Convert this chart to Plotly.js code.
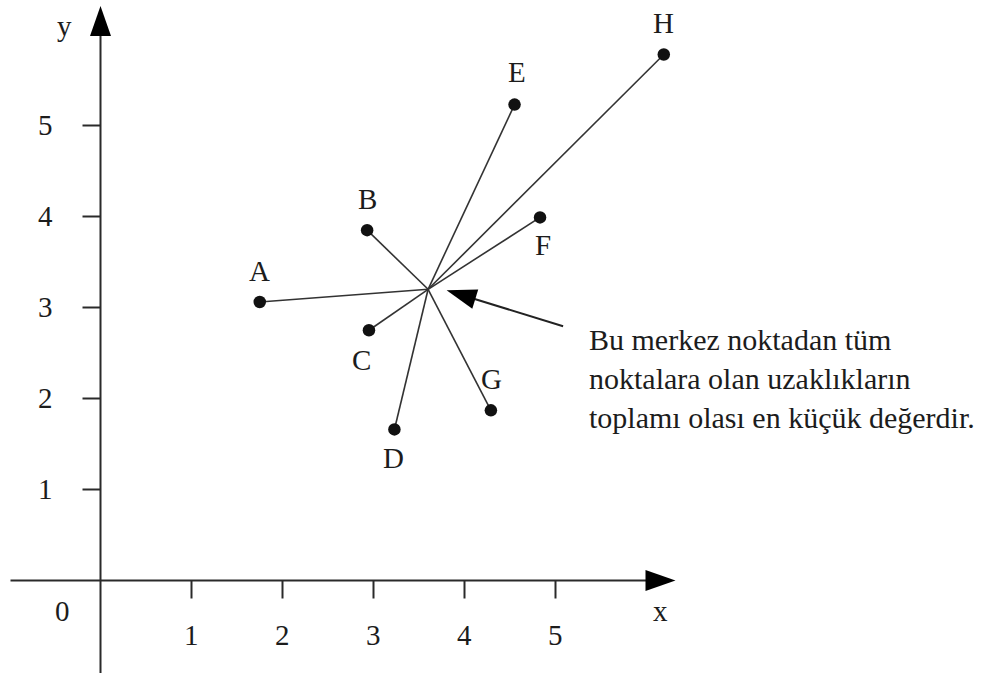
<!DOCTYPE html>
<html>
<head>
<meta charset="utf-8">
<script src="https://cdn.plot.ly/plotly-3.0.1.min.js"></script>
<style>
  html, body { margin: 0; padding: 0; background: #ffffff; }
  #chart { width: 1003px; height: 673px; }
</style>
</head>
<body>
<div id="chart"></div>
<script>
// Points whose summed distance to the centre is minimal
const pointNames = ['A', 'B', 'C', 'D', 'E', 'F', 'G', 'H'];
const pointX = [1.75, 2.93, 2.95, 3.23, 4.55, 4.83, 4.29, 6.19];
const pointY = [3.06, 3.85, 2.75, 1.66, 5.23, 3.99, 1.87, 5.78];

// The median centre
const centerX = 3.60;
const centerY = 3.20;

// Axis ticks
const xTicks = [1, 2, 3, 4, 5];
const yTicks = [1, 2, 3, 4, 5];
const xTickLabels = ['1', '2', '3', '4', '5'];
const yTickLabels = ['1', '2', '3', '4', '5'];

const note = 'Bu merkez noktadan tüm<br>noktalara olan uzaklıkların<br>toplamı olası en küçük değerdir.';

// Pixel offsets of the letter beside each point
const labelDx = [0, 0, -7, -1, 2, 3, 1, 0];
const labelDy = [31, 31, -30, -29, 33, -28, 31, 32];

// Page geometry: origin at (100.5, 580.5) px, 91 px per unit on both axes
const W = 1003, H = 673, PX = 91, OX = 100.5, OY = 580.5;
const xRange = [-OX / PX, (W - OX) / PX];
const yRange = [-(H - OY) / PX, OY / PX];
const px = v => v / PX;

const ink = '#1c1c1c';
const serif = 'Liberation Serif, Times New Roman, serif';
const font = { family: serif, size: 29, color: ink };
const noteFont = { family: serif, size: 30, color: ink };

// Spokes from the centre to every point
const spokeX = [], spokeY = [];
pointX.forEach((x, i) => {
  spokeX.push(centerX, x, null);
  spokeY.push(centerY, pointY[i], null);
});

const traces = [
  {
    x: spokeX, y: spokeY, mode: 'lines', type: 'scatter',
    line: { color: '#333333', width: 1.6 }, hoverinfo: 'skip'
  },
  {
    x: pointX, y: pointY, text: pointNames, mode: 'markers', type: 'scatter',
    marker: { color: '#111111', size: 12.5, line: { width: 0 } }, hoverinfo: 'text'
  }
];

// Filled triangle helper: tip, direction (unit), length, half width
function triangle(tx, ty, ux, uy, len, half) {
  const bx = tx - ux * len, by = ty - uy * len;
  const nx = -uy, ny = ux;
  return `M${tx},${ty} L${bx + nx * half},${by + ny * half} L${bx - nx * half},${by - ny * half} Z`;
}

const shapes = [];
const axisLine = { color: '#2a2a2a', width: 2 };

// x axis with arrow
const axisTip = px(575);
const axisStart = px(-90);
shapes.push({ type: 'line', xref: 'x', yref: 'y', x0: axisStart, y0: 0, x1: axisTip - px(20), y1: 0, line: axisLine });
shapes.push({ type: 'path', xref: 'x', yref: 'y', path: triangle(axisTip, 0, 1, 0, px(30), px(10.5)), fillcolor: '#000', line: { width: 0 } });
// y axis with arrow
shapes.push({ type: 'line', xref: 'x', yref: 'y', x0: 0, y0: yRange[0], x1: 0, y1: px(574.5) - px(20), line: axisLine });
shapes.push({ type: 'path', xref: 'x', yref: 'y', path: triangle(0, px(574.5), 0, 1, px(30), px(10.5)), fillcolor: '#000', line: { width: 0 } });

// tick marks
xTicks.forEach(t => shapes.push({ type: 'line', xref: 'x', yref: 'y', x0: t, y0: 0, x1: t, y1: -px(18), line: axisLine }));
yTicks.forEach(t => shapes.push({ type: 'line', xref: 'x', yref: 'y', x0: -px(18), y0: t, x1: 0, y1: t, line: axisLine }));

// pointer towards the centre
const pTip = [centerX + px(18.5), centerY - px(1)];
const pTail = [centerX + px(135), centerY - px(37)];
const dxp = pTip[0] - pTail[0], dyp = pTip[1] - pTail[1];
const dl = Math.hypot(dxp, dyp);
const ux = dxp / dl, uy = dyp / dl;
shapes.push({ type: 'line', xref: 'x', yref: 'y', x0: pTail[0], y0: pTail[1], x1: pTip[0] - ux * px(20), y1: pTip[1] - uy * px(20), line: { color: '#222', width: 2 } });
shapes.push({ type: 'path', xref: 'x', yref: 'y', path: triangle(pTip[0], pTip[1], ux, uy, px(30), px(10)), fillcolor: '#000', line: { width: 0 } });

const annotations = [];
pointNames.forEach((n, i) => annotations.push({
  x: pointX[i], y: pointY[i], xref: 'x', yref: 'y', text: n, showarrow: false,
  xshift: labelDx[i], yshift: labelDy[i], font: font
}));
xTicks.forEach((t, i) => annotations.push({
  x: t, y: 0, xref: 'x', yref: 'y', text: xTickLabels[i], showarrow: false, yshift: -54, font: font
}));
yTicks.forEach((t, i) => annotations.push({
  x: 0, y: t, xref: 'x', yref: 'y', text: yTickLabels[i], showarrow: false, xshift: -55, yshift: 1, font: font
}));
annotations.push({ x: 0, y: 0, xref: 'x', yref: 'y', text: '0', showarrow: false, xshift: -38, yshift: -30, font: font });
annotations.push({ x: axisTip, y: 0, xref: 'x', yref: 'y', text: 'x', showarrow: false, xshift: -15, yshift: -30, font: font });
annotations.push({ x: 0, y: px(574.5), xref: 'x', yref: 'y', text: 'y', showarrow: false, xshift: -36, yshift: -20, font: font });
annotations.push({
  x: px(587 - OX), y: px(OY - 378), xref: 'x', yref: 'y', text: note, showarrow: false,
  xanchor: 'left', yanchor: 'middle', align: 'left', font: noteFont
});

const layout = {
  width: W, height: H,
  margin: { l: 0, r: 0, t: 0, b: 0, pad: 0 },
  paper_bgcolor: '#ffffff', plot_bgcolor: '#ffffff',
  showlegend: false,
  xaxis: { range: xRange, visible: false, fixedrange: true },
  yaxis: { range: yRange, visible: false, fixedrange: true },
  shapes: shapes,
  annotations: annotations
};

Plotly.newPlot('chart', traces, layout, { displayModeBar: false, staticPlot: true });
</script>
</body>
</html>
